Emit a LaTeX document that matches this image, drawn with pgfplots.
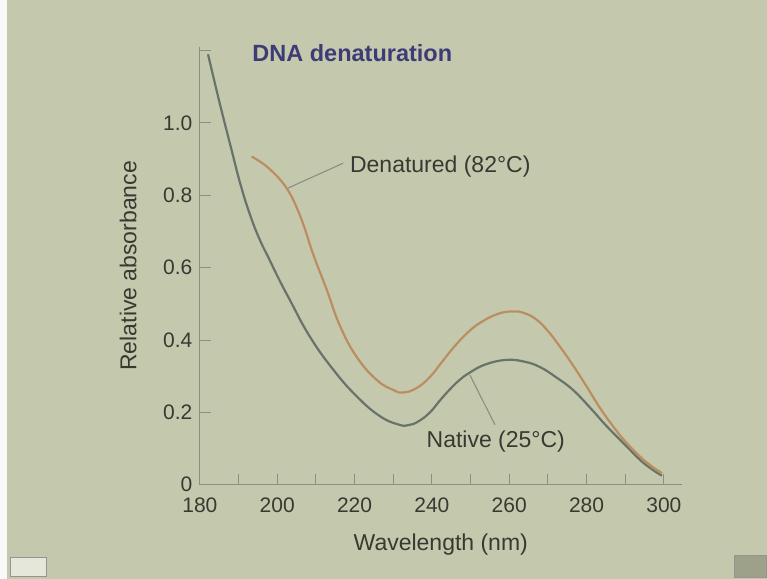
\documentclass[border=0pt]{standalone}
\usepackage{fontspec}
\setmainfont{Liberation Sans}
\usepackage{pgfplots}
\pgfplotsset{compat=1.18}
\definecolor{bg}{RGB}{196,201,173}
\definecolor{axgray}{RGB}{138,143,128}
\definecolor{txt}{RGB}{55,58,50}
\definecolor{nativec}{RGB}{104,116,106}
\definecolor{denatc}{RGB}{186,142,96}
\definecolor{titlec}{RGB}{62,60,118}
\begin{document}
\begin{tikzpicture}[x=1bp,y=1bp]
\fill[bg] (0,0) rectangle (767,579);
\fill[white!90!bg] (0,0) rectangle (7,579);
\begin{axis}[
  at={(200bp,94bp)}, anchor=south west,
  scale only axis, width=482bp, height=438bp,
  xmin=180, xmax=304.6, ymin=0, ymax=1.21,
  axis x line*=bottom, axis y line*=left,
  axis line style={-, draw=axgray, line width=1.1bp},
  tick align=inside,
  major tick length=11bp, minor tick length=11bp,
  every tick/.style={draw=axgray, line width=0.9bp},
  xtick={180,200,...,300},
  minor xtick={190,210,...,290},
  ytick={0,0.2,0.4,0.6,0.8,1.0},
  yticklabels={0,0.2,0.4,0.6,0.8,1.0},
  extra y ticks={1.2}, extra y tick labels={},
  /pgf/number format/assume math mode=true,
  ticklabel style={font=\fontsize{21bp}{25bp}\selectfont, text=txt},
  xticklabel style={yshift=-10bp},
  yticklabel style={xshift=-4bp},
  xlabel={Wavelength (nm)},
  ylabel={Relative absorbance},
  every axis x label/.style={at={(rel axis cs:0.5,0)}, anchor=center, yshift=-60bp, font=\fontsize{23bp}{27bp}\selectfont, text=txt},
  every axis y label/.style={at={(axis description cs:-0.149,0.5)}, anchor=center, rotate=90, font=\fontsize{23bp}{27bp}\selectfont, text=txt},
  clip=false,
]
\addplot[nativec, line width=2.2bp, smooth, tension=0.75] coordinates {
(182.1,1.19) (185,1.06) (188.2,0.925) (190.5,0.83) (193,0.745) (195.5,0.677)
(198,0.622) (200.5,0.567) (203.3,0.51) (208.4,0.41) (214.5,0.318) (220.5,0.245)
(226.5,0.19) (231.5,0.166) (234,0.165) (236.5,0.175) (239.5,0.2) (242,0.232)
(244.6,0.263) (247,0.288) (249.8,0.31) (254,0.333) (259.3,0.345) (264,0.34)
(268,0.325) (272,0.298) (276.5,0.262) (281,0.212) (285.2,0.162) (290,0.11)
(293.8,0.069) (297,0.042) (299.5,0.025)
};
\addplot[denatc, line width=2.2bp, smooth, tension=0.75] coordinates {
(193.4,0.907) (196,0.89) (198.5,0.868) (201,0.84) (203,0.81) (205,0.767)
(207,0.712) (209.3,0.637) (212.8,0.539) (216.2,0.44) (220.5,0.354) (225.7,0.29)
(230,0.262) (232.6,0.255) (236,0.267) (239.5,0.298) (242.5,0.338) (245.5,0.378)
(249,0.418) (252.4,0.447) (257,0.472) (261,0.479) (264,0.474) (267.1,0.456)
(270,0.425) (273.1,0.382) (276.5,0.33) (280,0.272) (283.5,0.212) (286.9,0.161)
(290,0.12) (293.8,0.078) (297,0.05) (299.5,0.032)
};
\draw[axgray, line width=1.1bp] (axis cs:202.8,0.82) -- (axis cs:217.1,0.889);
\draw[axgray, line width=1.1bp] (axis cs:249.8,0.304) -- (axis cs:256.3,0.166);
\node[anchor=west, inner sep=0pt, text=txt, font=\fontsize{23bp}{27bp}\selectfont] at (axis cs:218.8,0.879) {Denatured (82°C)};
\node[anchor=west, inner sep=0pt, text=txt, font=\fontsize{23bp}{27bp}\selectfont] at (axis cs:238.6,0.12) {Native (25°C)};
\end{axis}
\node[text=titlec, font=\fontsize{23.5bp}{28bp}\selectfont\bfseries] at (352.5,526) {DNA denaturation};
\filldraw[fill=white!55!bg, draw=gray!70!bg, line width=0.8bp] (10,2) rectangle (46,21);
\filldraw[fill=black!20!bg, draw=gray!70!bg, line width=0.8bp] (735,1) rectangle (767,23);
\end{tikzpicture}
\end{document}
